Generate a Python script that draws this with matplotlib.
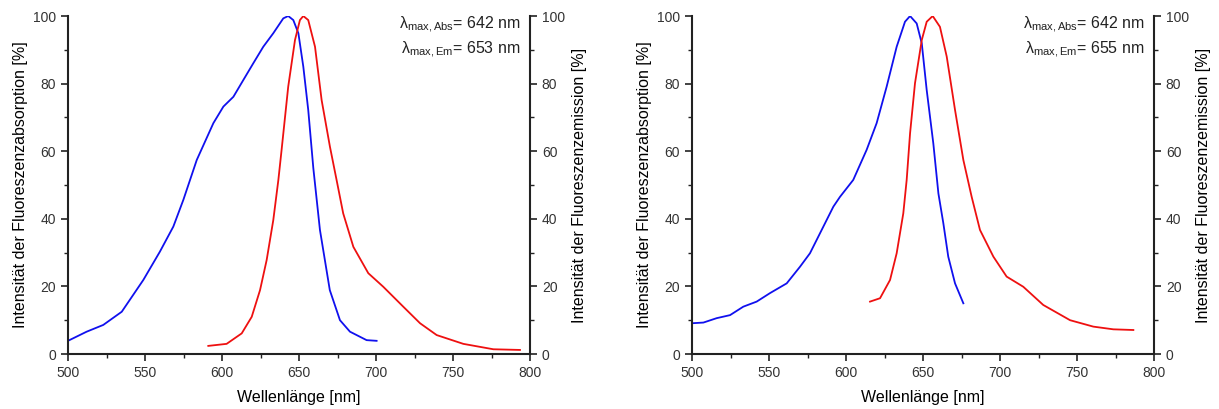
import matplotlib
matplotlib.use("Agg")
import matplotlib.pyplot as plt
from matplotlib.ticker import MultipleLocator

plt.rcParams['font.family'] = ['Liberation Sans', 'DejaVu Sans']
plt.rcParams['mathtext.fontset'] = 'custom'
plt.rcParams['mathtext.rm'] = 'Liberation Sans'
plt.rcParams['mathtext.it'] = 'Liberation Sans'

# Dye 1: absorption (blue) and emission (red) spectra
abs1_wl = [500, 512.1, 522.9, 534.9, 548.9, 559.7, 568.4, 574.9, 583.6, 594.4, 600.9,
           607.4, 613.9, 620.3, 626.8, 633.3, 639.8, 643, 646.3, 649.6, 652.8, 656,
           659.3, 663.6, 670, 676.6, 683.1, 693.9, 700.4]
abs1_val = [3.9, 6.6, 8.6, 12.5, 21.9, 30.3, 37.7, 45.6, 57.4, 68.3, 73.2,
            76.1, 81.1, 86, 90.9, 94.9, 99.3, 100, 98.8, 94.9, 85, 72.2,
            55, 36.7, 18.9, 10, 6.6, 4.1, 3.9]
em1_wl = [591.1, 603, 612.8, 619.3, 624.7, 629, 633.3, 636.6, 638.7, 643, 647.4,
          650.6, 652.8, 656, 660.4, 664.7, 670.1, 674.4, 678.7, 685.3, 695, 704.7,
          717.7, 728.6, 739.4, 756.7, 776.2, 793.5]
em1_val = [2.4, 3, 6.1, 11, 18.9, 27.8, 39.6, 51.5, 60.4, 79.1, 92.9,
           98.8, 100, 98.8, 90.9, 75.1, 61.3, 51.5, 41.6, 31.7, 23.9, 19.9,
           14, 9.1, 5.6, 3, 1.4, 1.2]

# Dye 2: absorption (blue) and emission (red) spectra
abs2_wl = [500, 507.4, 516, 524.7, 533.3, 542, 550.6, 561.5, 570.1, 576.6, 583.1,
           591.8, 596.1, 604.7, 613.4, 619.9, 626.4, 632.9, 638.3, 641.6, 645.9,
           649.2, 652.4, 656.7, 660, 663.2, 666.4, 670.8, 676.2]
abs2_val = [9.1, 9.3, 10.6, 11.5, 14, 15.5, 18, 20.9, 25.8, 29.8, 35.7,
            43.6, 46.5, 51.5, 60.4, 68.3, 79.1, 90.9, 98.3, 100, 97.8,
            91.9, 78.1, 62.3, 47.5, 38.7, 28.8, 20.9, 15]
em2_wl = [615.6, 622.1, 628.6, 632.9, 637.2, 639.4, 641.6, 644.8, 649.2, 652.4,
          656.3, 661, 665.4, 670.8, 676.2, 681.6, 687, 695.7, 704.3, 715.1, 728.1,
          745.5, 760.6, 773.6, 786.6]
em2_val = [15.5, 16.5, 21.9, 29.8, 41.6, 51.5, 65.3, 80.1, 92.9, 98.3,
           100, 96.8, 88, 72.2, 57.4, 46.5, 36.7, 28.8, 22.9, 19.9, 14.5,
           10, 8.1, 7.3, 7.1]

panels = [
    (abs1_wl, abs1_val, em1_wl, em1_val, '642', '653'),
    (abs2_wl, abs2_val, em2_wl, em2_val, '642', '655'),
]

fig = plt.figure(figsize=(12.19, 4.09), dpi=100)
lefts = [68 / 1219, 692 / 1219]
tick_color = '#333333'

for left, (aw, av, ew, ev, lam_abs, lam_em) in zip(lefts, panels):
    ax = fig.add_axes([left, 55 / 409, 462 / 1219, 338 / 409])
    ax2 = ax.twinx()
    ax.plot(aw, av, color='#1010ee', lw=1.3)
    ax2.plot(ew, ev, color='#ee1010', lw=1.3)
    for a in (ax, ax2):
        a.set_xlim(500, 800)
        a.set_ylim(0, 100)
        a.spines['top'].set_visible(False)
        for s in a.spines.values():
            s.set_linewidth(1.5)
            s.set_color('#222222')
        a.yaxis.set_major_locator(MultipleLocator(20))
        a.yaxis.set_minor_locator(MultipleLocator(10))
        a.tick_params(which='major', direction='out', length=5, width=1.2,
                      labelsize=10, colors='#222222', labelcolor=tick_color)
        a.tick_params(which='minor', direction='out', length=3, width=1.0,
                      colors='#222222')
    ax.xaxis.set_major_locator(MultipleLocator(50))
    ax.xaxis.set_minor_locator(MultipleLocator(25))
    ax.spines['right'].set_visible(False)
    ax2.spines['left'].set_visible(False)
    ax2.spines['bottom'].set_visible(False)
    ax.set_xlabel('Wellenlänge [nm]', fontsize=11.5, labelpad=7)
    ax.set_ylabel('Intensität der Fluoreszenzabsorption [%]', fontsize=11.5, labelpad=4)
    ax2.set_ylabel('Intensität der Fluoreszenzemission [%]', fontsize=11.5, labelpad=5)
    ax2.text(794, 97.3, r'$\lambda_{\rm max,Abs}$= ' + lam_abs + ' nm',
             ha='right', va='center', fontsize=11.5, color='#222222')
    ax2.text(794, 90, r'$\lambda_{\rm max,Em}$= ' + lam_em + ' nm',
             ha='right', va='center', fontsize=11.5, color='#222222')

fig.savefig('out.png', dpi=100)
